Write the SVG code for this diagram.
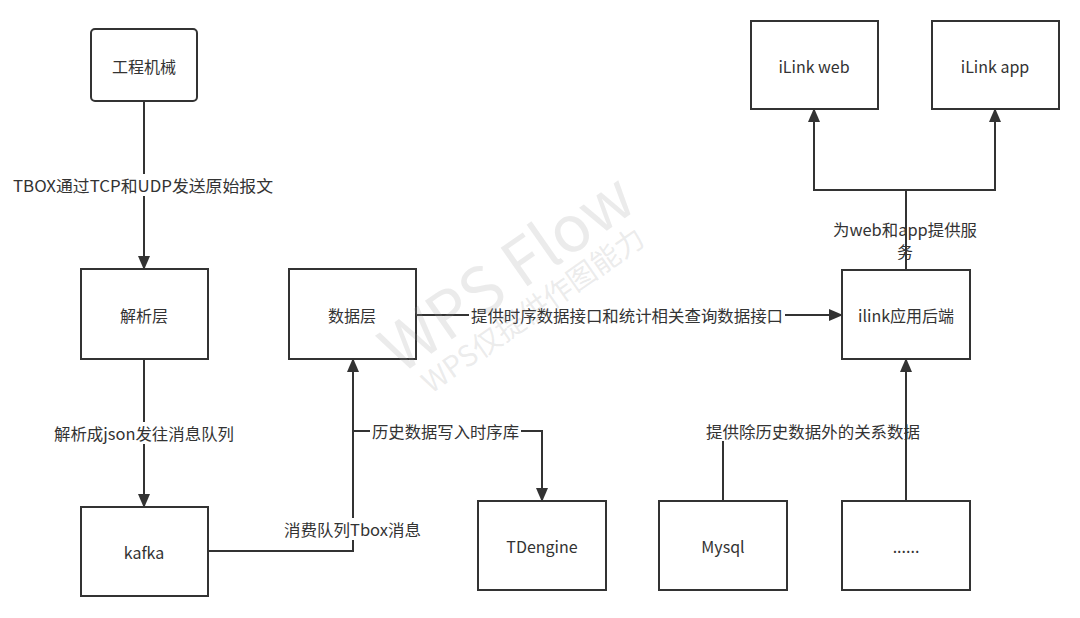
<svg xmlns="http://www.w3.org/2000/svg" width="1080" height="618" viewBox="0 0 1080 618">
  <style>
    .box { fill: #ffffff; stroke: #333333; stroke-width: 2; }
    .txt { font-family: "Noto Sans CJK SC", "Liberation Sans", sans-serif; font-size: 16px; fill: #333333; text-anchor: middle; dominant-baseline: central; }
    .lbl { font-family: "Noto Sans CJK SC", "Liberation Sans", sans-serif; font-size: 16px; fill: #333333; text-anchor: middle; dominant-baseline: central; }
    .edge { fill: none; stroke: #333333; stroke-width: 2; }
    .bg { fill: #ffffff; }
    .wm { font-family: "Noto Sans CJK SC", "Liberation Sans", sans-serif; fill: #9a9a9a; fill-opacity: 0.2; text-anchor: middle; dominant-baseline: central; }
  </style>
  <defs>
    <marker id="arrow" viewBox="0 0 14 12" refX="13" refY="6" markerWidth="14" markerHeight="12" markerUnits="userSpaceOnUse" orient="auto">
      <path d="M0,0 L14,6 L0,12 z" fill="#333333"/>
    </marker>
  </defs>
  <rect width="1080" height="618" fill="#ffffff"/>

  <g id="connectors">
    <path class="edge" d="M144,101 V269" marker-end="url(#arrow)"/>
    <path class="edge" d="M144,359 V507" marker-end="url(#arrow)"/>
    <path class="edge" d="M208,551 H353 V359" marker-end="url(#arrow)"/>
    <path class="edge" d="M353,431 H542 V501" marker-end="url(#arrow)"/>
    <path class="edge" d="M416,315 H842" marker-end="url(#arrow)"/>
    <path class="edge" d="M906,270 V190 H814 V109" marker-end="url(#arrow)"/>
    <path class="edge" d="M906,190 H995 V109" marker-end="url(#arrow)"/>
    <path class="edge" d="M723,501 V441"/>
    <path class="edge" d="M906,501 V359" marker-end="url(#arrow)"/>

    <rect class="bg" x="11" y="174" width="264" height="22"/>
    <text class="lbl" x="143" y="185" textLength="260" lengthAdjust="spacingAndGlyphs">TBOX通过TCP和UDP发送原始报文</text>
    <rect class="bg" x="52" y="422" width="184" height="22"/>
    <text class="lbl" x="144" y="433" textLength="180" lengthAdjust="spacingAndGlyphs">解析成json发往消息队列</text>
    <rect class="bg" x="282" y="518" width="141" height="22"/>
    <text class="lbl" x="352.5" y="529" textLength="137" lengthAdjust="spacingAndGlyphs">消费队列Tbox消息</text>
    <rect class="bg" x="370" y="420" width="151" height="22"/>
    <text class="lbl" x="445.5" y="431" textLength="147" lengthAdjust="spacingAndGlyphs">历史数据写入时序库</text>
    <rect class="bg" x="469" y="304" width="316" height="22"/>
    <text class="lbl" x="627" y="315" textLength="312" lengthAdjust="spacingAndGlyphs">提供时序数据接口和统计相关查询数据接口</text>
    <text class="lbl" x="813" y="431" textLength="214" lengthAdjust="spacingAndGlyphs">提供除历史数据外的关系数据</text>
    <text class="lbl" x="905" y="229" textLength="144" lengthAdjust="spacingAndGlyphs">为web和app提供服</text>
    <text class="lbl" x="905" y="251">务</text>
  </g>

  <g id="node-gongchengjixie">
    <rect class="box" x="91" y="29" width="106" height="72" rx="4" ry="4"/>
    <text class="txt" x="144" y="66">工程机械</text>
  </g>
  <g id="node-jiexiceng">
    <rect class="box" x="81" y="269" width="127" height="90"/>
    <text class="txt" x="144" y="315">解析层</text>
  </g>
  <g id="node-shujuceng">
    <rect class="box" x="289" y="269" width="127" height="90"/>
    <text class="txt" x="352" y="315">数据层</text>
  </g>
  <g id="node-kafka">
    <rect class="box" x="81" y="507" width="127" height="89"/>
    <text class="txt" x="144" y="552">kafka</text>
  </g>
  <g id="node-tdengine">
    <rect class="box" x="478" y="501" width="128" height="89"/>
    <text class="txt" x="542" y="546">TDengine</text>
  </g>
  <g id="node-mysql">
    <rect class="box" x="659" y="501" width="128" height="89"/>
    <text class="txt" x="723" y="546">Mysql</text>
  </g>
  <g id="node-more">
    <rect class="box" x="842" y="501" width="128" height="89"/>
    <text class="txt" x="906" y="546">......</text>
  </g>
  <g id="node-ilink-backend">
    <rect class="box" x="842" y="270" width="128" height="89"/>
    <text class="txt" x="906" y="315">ilink应用后端</text>
  </g>
  <g id="node-ilink-web">
    <rect class="box" x="751" y="21" width="127" height="88"/>
    <text class="txt" x="814" y="66">iLink web</text>
  </g>
  <g id="node-ilink-app">
    <rect class="box" x="932" y="21" width="127" height="88"/>
    <text class="txt" x="995" y="66">iLink app</text>
  </g>

  <!-- watermark -->
  <g id="watermark" transform="translate(512,280) rotate(-35)">
    <text class="wm" x="0" y="-14" font-size="64">WPS Flow</text>
    <text class="wm" x="0" y="34" font-size="29">WPS仅提供作图能力</text>
  </g>
</svg>
